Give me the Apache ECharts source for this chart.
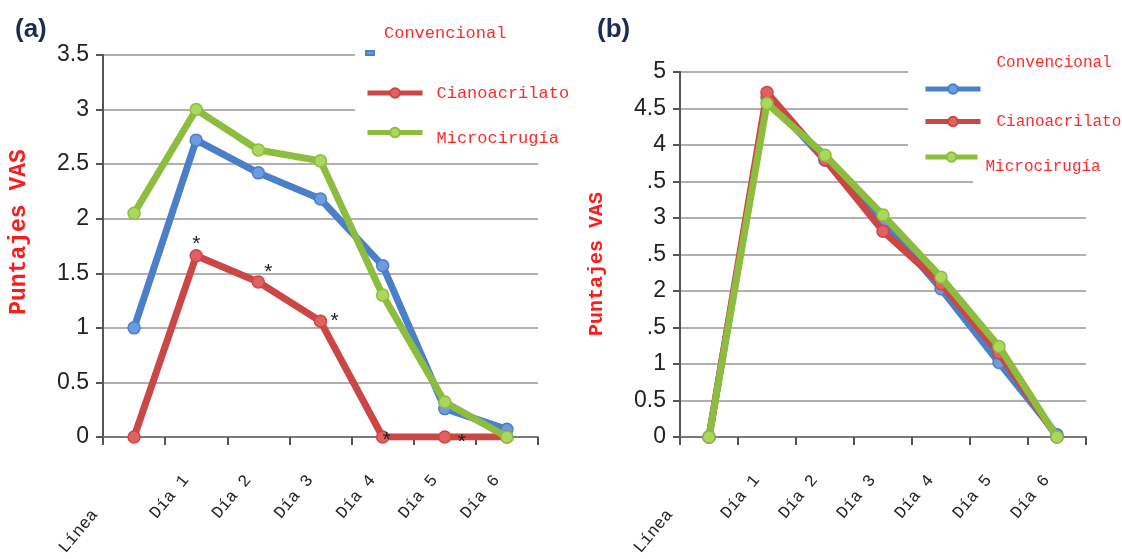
<!DOCTYPE html>
<html>
<head>
<meta charset="utf-8">
<script src="https://cdn.jsdelivr.net/npm/echarts@6/dist/echarts.min.js"></script>
<style>
html,body{margin:0;padding:0;background:#fff;}
#chart{width:1122px;height:559px;}
</style>
</head>
<body>
<div id="chart"></div>
<script>
// ---------- data ----------
const categories = ['Línea', 'Día 1', 'Día 2', 'Día 3', 'Día 4', 'Día 5', 'Día 6'];
const seriesNames = ['Convencional', 'Cianoacrilato', 'Microcirugía'];
const leftConvencional = [1.0, 2.72, 2.42, 2.18, 1.57, 0.26, 0.07];
const leftCianoacrilato = [0, 1.66, 1.42, 1.06, 0, 0, 0];
const leftMicrocirugia = [2.05, 3.0, 2.63, 2.53, 1.3, 0.32, 0];
const rightConvencional = [0, 4.65, 3.79, 2.95, 2.03, 1.02, 0.03];
const rightCianoacrilato = [0, 4.72, 3.8, 2.82, 2.1, 1.15, 0];
const rightMicrocirugia = [0, 4.57, 3.86, 3.04, 2.19, 1.24, 0];
const leftAsterisks = ['', '*', '*', '*', '*', '*', ''];
const leftYTickLabels = ['0', '0.5', '1', '1.5', '2', '2.5', '3', '3.5'];
const rightYTickLabels = ['0', '0.5', '1', '.5', '2', '.5', '3', '.5', '4', '4.5', '5'];
const yAxisTitle = 'Puntajes VAS';
const panelLabels = ['(a)', '(b)'];

// ---------- styles ----------
const colors = ['#4a7fca', '#cc4646', '#8cbd3e'];
const markerFill = ['#6b9be0', '#e06260', '#a9d85c'];
const asteriskOffsets = [[0, 0], [0, -12], [10, -10], [14, 0], [4, 3], [17, 5], [0, 0]];
const mono = 'Liberation Mono';
const sans = 'Liberation Sans';

const chart = echarts.init(document.getElementById('chart'));

function xAxisOf(gridIndex) {
  return {
    type: 'category', gridIndex: gridIndex, data: categories, boundaryGap: true,
    axisLine: { lineStyle: { color: '#7a7a7a', width: 2 } },
    axisTick: { show: true, length: 8, lineStyle: { color: '#555', width: 2 } },
    axisLabel: {
      interval: 0, rotate: 50, margin: 28, color: '#222', fontFamily: mono, fontSize: 17,
      formatter: function (v) { return v === categories[0] ? '{l|' + v + '}' : '{d|' + v + '}'; },
      rich: {
        l: { padding: [0, 61, 0, 0], fontFamily: mono, fontSize: 17, color: '#222' },
        d: { padding: [0, 16, 0, 0], fontFamily: mono, fontSize: 17, color: '#222' }
      }
    },
    splitLine: { show: false }
  };
}
function yAxisOf(gridIndex, max, labels, nameSize, namePad, nameGap) {
  return {
    type: 'value', gridIndex: gridIndex, min: 0, max: max, interval: 0.5,
    name: yAxisTitle, nameLocation: 'middle', nameRotate: 90, nameGap: nameGap, nameMoveOverlap: false,
    nameTextStyle: { color: '#ff1a1a', fontFamily: mono, fontWeight: 'bold', fontSize: nameSize, padding: namePad },
    axisLine: { show: true, lineStyle: { color: '#555', width: 2 } },
    axisTick: { show: true, length: 7, lineStyle: { color: '#555', width: 2 } },
    axisLabel: {
      margin: 14, color: '#222', fontFamily: sans, fontSize: 23,
      formatter: function (v) { return labels[Math.round(v / 0.5)]; }
    },
    splitLine: { show: true, lineStyle: { color: '#b0b0b0', width: 2 } }
  };
}
function lineSeries(name, idx, gridIdx, values, withAsterisks) {
  const data = values.map(function (v, i) {
    if (withAsterisks && leftAsterisks[i]) {
      return {
        value: v,
        label: {
          show: true, position: 'inside', formatter: leftAsterisks[i], offset: asteriskOffsets[i],
          color: '#222', fontFamily: sans, fontSize: 21
        }
      };
    }
    return v;
  });
  return {
    type: 'line', name: name, xAxisIndex: gridIdx, yAxisIndex: gridIdx, data: data,
    symbol: 'circle', symbolSize: 12, showSymbol: true,
    lineStyle: { color: colors[idx], width: 7 },
    itemStyle: { color: markerFill[idx], borderColor: colors[idx], borderWidth: 1.5 },
    emphasis: { disabled: true }, animation: false, z: 2 + idx
  };
}
// text shift: lines before/after the name move it down/up by one lineHeight each
function legendOf(name, left, top, iw, ih, padLeft, shift, fontSize, icon) {
  const item = { name: name };
  if (icon) item.icon = icon;
  let fmt = function (n) { return n; };
  let lh = fontSize;
  if (shift < 0) { lh = -shift; fmt = function (n) { return n + '\n\n'; }; }
  else if (shift > 0) { lh = shift; fmt = function (n) { return '\n\n' + n; }; }
  return {
    data: [item], left: left, top: top, padding: 0, itemWidth: iw, itemHeight: ih,
    selectedMode: false, orient: 'vertical', formatter: fmt,
    lineStyle: { width: 5 },
    textStyle: { color: '#ff2a2a', fontFamily: mono, fontSize: fontSize, lineHeight: lh, padding: [0, 0, 0, padLeft] }
  };
}

const option = {
  backgroundColor: '#ffffff',
  animation: false,
  grid: [
    { left: 103, top: 55, width: 435, height: 382, outerBoundsMode: 'none' },
    { left: 680, top: 72, width: 406, height: 365, outerBoundsMode: 'none' }
  ],
  xAxis: [xAxisOf(0), xAxisOf(1)],
  yAxis: [
    yAxisOf(0, 3.5, leftYTickLabels, 23, [0, 0, 0, 28], 72),
    yAxisOf(1, 5, rightYTickLabels, 20, [0, 19, 0, 0], 73)
  ],
  legend: [
    legendOf(seriesNames[0], 365, 23, 8, 4, 5, -20, 17, 'rect'),
    legendOf(seriesNames[1], 365, 84.5, 55, 12, 9, 0, 17),
    legendOf(seriesNames[2], 365, 118, 55, 12, 9, 6, 17),
    legendOf(seriesNames[0], 923, 50, 55, 12, 11, -26, 16),
    legendOf(seriesNames[1], 923, 113.5, 55, 12, 11, 0, 16),
    legendOf(seriesNames[2], 923, 139, 52, 12, 3, 10, 16)
  ],
  graphic: [
    { type: 'rect', z: 1, shape: { x: 355, y: 15, width: 235, height: 135 }, style: { fill: '#ffffff' } },
    { type: 'rect', z: 1, shape: { x: 908, y: 55, width: 214, height: 120 }, style: { fill: '#ffffff' } },
    { type: 'rect', z: 1, shape: { x: 973, y: 175, width: 149, height: 15 }, style: { fill: '#ffffff' } },
    { type: 'text', z: 5, left: 15, top: 17, style: { text: panelLabels[0], fill: '#1c2b52', font: 'bold 26px "Liberation Sans"' } },
    { type: 'text', z: 5, left: 597, top: 17, style: { text: panelLabels[1], fill: '#1c2b52', font: 'bold 26px "Liberation Sans"' } }
  ],
  series: [
    lineSeries(seriesNames[0], 0, 0, leftConvencional, false),
    lineSeries(seriesNames[1], 1, 0, leftCianoacrilato, true),
    lineSeries(seriesNames[2], 2, 0, leftMicrocirugia, false),
    lineSeries(seriesNames[0], 0, 1, rightConvencional, false),
    lineSeries(seriesNames[1], 1, 1, rightCianoacrilato, false),
    lineSeries(seriesNames[2], 2, 1, rightMicrocirugia, false)
  ]
};
chart.setOption(option);
</script>
</body>
</html>
